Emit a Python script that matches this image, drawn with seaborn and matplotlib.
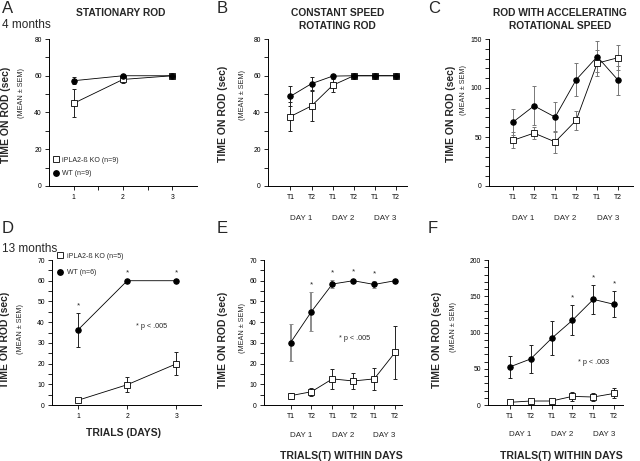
import matplotlib
matplotlib.use('Agg')
import matplotlib.pyplot as plt
import matplotlib.transforms as mtransforms
from matplotlib.lines import Line2D
from matplotlib.ticker import MultipleLocator, FixedLocator
import seaborn as sns

# ---- data (mean, sem) ----
days = [1, 2, 3]
trials = [1, 2, 3, 4, 5, 6]
trial_labels = ['T1', 'T2', 'T1', 'T2', 'T1', 'T2']
day_labels = ['DAY 1', 'DAY 2', 'DAY 3']

# 4 months
a_ko = [45, 58, 60]
a_ko_sem = [7.7, 1.8, 0.5]
a_wt = [57.3, 60, 60]
a_wt_sem = [1.8, 0.5, 0.3]

b_ko = [37.8, 43.6, 54.8, 60, 60, 60]
b_ko_sem = [7.8, 8.1, 3.6, 0, 0, 0]
b_wt = [48.8, 55.7, 59.8, 60, 60, 60]
b_wt_sem = [5.4, 3.5, 0.5, 0, 0, 0]

c_ko = [46.6, 54, 45, 67, 125.3, 131]
c_ko_sem = [8, 6, 11, 9.5, 13, 13]
c_wt = [65.2, 81.8, 70.3, 108.4, 132, 107.8]
c_wt_sem = [13, 20, 15.5, 17, 16, 15]

# 13 months
d_ko = [2.3, 9.8, 19.9]
d_ko_sem = [0.5, 3.5, 5.5]
d_wt = [36.3, 60, 60]
d_wt_sem = [8.2, 0.3, 0.3]
d_stars = [1, 2, 3]

e_ko = [4.5, 6.4, 12.6, 11.6, 12.6, 25.4]
e_ko_sem = [1.5, 2, 4.8, 3.7, 5.5, 12.7]
e_wt = [30.1, 45.1, 58.4, 60, 58.2, 60]
e_wt_sem = [9, 9.4, 1.8, 1, 1.8, 1]
e_stars = [2, 3, 4, 5]

f_ko = [3.7, 5.5, 5.5, 11.9, 11, 16]
f_ko_sem = [1, 1.5, 1.5, 6, 6, 6.9]
f_wt = [52.5, 63.5, 91.8, 116.9, 145.7, 138.8]
f_wt_sem = [15.5, 19, 23.5, 21, 20, 18]
f_stars = [4, 5, 6]

sns.set_theme(style='ticks')
plt.rcParams['font.family'] = ['Liberation Sans', 'DejaVu Sans']
plt.rcParams['axes.linewidth'] = 0.7
plt.rcParams['axes.edgecolor'] = 'black'

W, H = 640, 461
fig = plt.figure(figsize=(6.4, 4.61), dpi=100)
fig.set_facecolor('white')


def box(l, t, r, b):
    return [l / W, 1 - b / H, (r - l) / W, (b - t) / H]


def ftext(x, y, s, **kw):
    fig.text(x / W, 1 - y / H, s, **kw)


def draw(ax, x, ko, ko_sem, wt, wt_sem, bar_ko='#222222', bar_wt='#222222',
         wt_bar_lw=0.7, ko_on_top=False):
    z_ko, z_wt = (5, 4) if ko_on_top else (4, 5)
    ax.errorbar(x, ko, yerr=ko_sem, fmt='none', ecolor=bar_ko, elinewidth=0.7,
                capsize=1.7, capthick=0.7, zorder=z_ko - 2)
    ax.errorbar(x, wt, yerr=wt_sem, fmt='none', ecolor=bar_wt, elinewidth=wt_bar_lw,
                capsize=1.7, capthick=0.7, zorder=z_wt - 2)
    sns.lineplot(x=x, y=ko, ax=ax, color='black', lw=0.6, marker='s', markersize=3.7,
                 markerfacecolor='white', markeredgecolor='black', markeredgewidth=0.6,
                 zorder=z_ko)
    sns.lineplot(x=x, y=wt, ax=ax, color='black', lw=0.6, marker='o', markersize=3.9,
                 markerfacecolor='black', markeredgecolor='black', zorder=z_wt)
    sns.despine(ax=ax)
    ax.tick_params(which='both', labelsize=4.9, length=2.6, width=0.6, pad=3.5,
                   colors='black')
    ax.tick_params(axis='y', pad=2.5)
    ax.set_xlabel('')
    ax.set_ylabel('')


def stars(ax, pos, wt, wt_sem):
    for p in pos:
        ax.annotate('*', (p, wt[p - 1] + wt_sem[p - 1]), xytext=(0, 2.5),
                    textcoords='offset points', ha='center', va='bottom', fontsize=5.8)


def trial_axis(ax, xlim, day_y):
    ax.set_xlim(*xlim)
    ax.set_xticks(trials)
    ax.set_xticklabels(trial_labels)
    tr = mtransforms.blended_transform_factory(ax.transData, ax.transAxes)
    for i, lab in enumerate(day_labels):
        ax.text(2 * i + 1.5, day_y, lab, transform=tr, ha='center', va='center',
                fontsize=5.8)


legend_handles = [
    Line2D([], [], ls='none', marker='s', ms=3.7, mfc='white', mec='black', mew=0.6),
    Line2D([], [], ls='none', marker='o', ms=3.9, mfc='black', mec='black'),
]

# A
ax = fig.add_axes(box(49, 39, 197, 186))
draw(ax, days, a_ko, a_ko_sem, a_wt, a_wt_sem)
ax.set_xlim(0.5, 3.5)
ax.set_ylim(0, 80)
ax.set_xticks(days)
ax.xaxis.set_minor_locator(FixedLocator([1.5, 2.5]))
ax.yaxis.set_major_locator(MultipleLocator(20))
ax.yaxis.set_minor_locator(MultipleLocator(10))
ax.legend(legend_handles, ['iPLA2-ß KO (n=9)', 'WT (n=9)'], loc='lower left',
          bbox_to_anchor=(0.03, 0.06), frameon=False, fontsize=5, handlelength=0.8,
          handletextpad=0.5, labelspacing=0.9, borderpad=0, borderaxespad=0)

# B
ax = fig.add_axes(box(268, 39, 407, 186))
draw(ax, trials, b_ko, b_ko_sem, b_wt, b_wt_sem)
trial_axis(ax, (-0.06, 6.52), -0.218)
ax.set_ylim(0, 80)
ax.yaxis.set_major_locator(MultipleLocator(20))
ax.yaxis.set_minor_locator(MultipleLocator(10))

# C
ax = fig.add_axes(box(489, 39, 633, 186))
draw(ax, trials, c_ko, c_ko_sem, c_wt, c_wt_sem, bar_ko='#777777', bar_wt='#777777',
     ko_on_top=True)
trial_axis(ax, (-0.14, 6.7), -0.218)
ax.set_ylim(0, 150)
ax.yaxis.set_major_locator(MultipleLocator(50))
ax.yaxis.set_minor_locator(MultipleLocator(10))

# D
ax = fig.add_axes(box(52, 260, 201, 405))
draw(ax, days, d_ko, d_ko_sem, d_wt, d_wt_sem)
ax.set_xlim(0.47, 3.5)
ax.set_ylim(0, 70)
ax.set_xticks(days)
ax.yaxis.set_major_locator(MultipleLocator(10))
ax.yaxis.set_minor_locator(MultipleLocator(5))
stars(ax, d_stars, d_wt, d_wt_sem)
ax.text(2.5, 37.7, '* p < .005', ha='center', va='center', fontsize=5.2)
ax.legend(legend_handles, ['iPLA2-ß KO (n=5)', 'WT (n=6)'], loc='upper left',
          bbox_to_anchor=(0.035, 1.05), frameon=False, fontsize=5, handlelength=0.8,
          handletextpad=0.6, labelspacing=1.4, borderpad=0, borderaxespad=0)

# E
ax = fig.add_axes(box(264, 260, 402, 405))
draw(ax, trials, e_ko, e_ko_sem, e_wt, e_wt_sem, bar_wt='#8c8c8c', wt_bar_lw=1.4)
trial_axis(ax, (-0.27, 6.33), -0.207)
ax.set_ylim(0, 70)
ax.yaxis.set_major_locator(MultipleLocator(10))
ax.yaxis.set_minor_locator(MultipleLocator(5))
stars(ax, e_stars, e_wt, e_wt_sem)
ax.text(4.06, 31.9, '* p < .005', ha='center', va='center', fontsize=5.2)

# F
ax = fig.add_axes(box(488, 260, 623, 405))
draw(ax, trials, f_ko, f_ko_sem, f_wt, f_wt_sem)
trial_axis(ax, (-0.04, 6.42), -0.2)
ax.set_ylim(0, 200)
ax.yaxis.set_major_locator(MultipleLocator(50))
ax.yaxis.set_minor_locator(MultipleLocator(10))
stars(ax, f_stars, f_wt, f_wt_sem)
ax.text(5.02, 58.9, '* p < .003', ha='center', va='center', fontsize=5.2)

# panel letters and age labels
for letter, x, y in [('A', 1.5, 13.3), ('B', 217, 13.3), ('C', 428, 13.3),
                     ('D', 1.5, 233), ('E', 217, 233), ('F', 428, 233)]:
    ftext(x, y, letter, fontsize=12, va='baseline', ha='left')
ftext(1.5, 28.3, '4 months', fontsize=8.5, va='baseline', ha='left')
ftext(1.5, 252, '13 months', fontsize=8.5, va='baseline', ha='left')

# titles
ftext(121, 15.7, 'STATIONARY ROD', fontsize=7.4, fontweight='bold', ha='center', va='baseline')
ftext(337.5, 15.7, 'CONSTANT SPEED', fontsize=7.4, fontweight='bold', ha='center', va='baseline')
ftext(337.5, 29, 'ROTATING ROD', fontsize=7.4, fontweight='bold', ha='center', va='baseline')
ftext(560, 15.7, 'ROD WITH ACCELERATING', fontsize=7.4, fontweight='bold', ha='center', va='baseline')
ftext(560, 29, 'ROTATIONAL SPEED', fontsize=7.4, fontweight='bold', ha='center', va='baseline')

# y labels
for x, y, xs, ys in [(6, 115, 21.5, 93.5), (223.5, 113.5, 242, 94.5), (450.5, 113.5, 463.5, 90),
                     (5.5, 340, 20, 329), (223.5, 340, 242, 327.5), (437.5, 340, 453.5, 326.5)]:
    ftext(x, y, 'TIME ON ROD (sec)', fontsize=7.5, fontweight='bold', rotation=90,
          ha='center', va='center')
    ftext(xs, ys, '(MEAN ± SEM)', fontsize=5.2, rotation=90, ha='center', va='center')

# x labels
ftext(124, 433.5, 'TRIALS (DAYS)', fontsize=7.5, fontweight='bold', ha='center', va='center')
ftext(341.5, 455.5, 'TRIALS(T) WITHIN DAYS', fontsize=7.6, fontweight='bold', ha='center', va='center')
ftext(561.5, 455.5, 'TRIALS(T) WITHIN DAYS', fontsize=7.6, fontweight='bold', ha='center', va='center')

fig.savefig('out.png', dpi=100, facecolor='white')
